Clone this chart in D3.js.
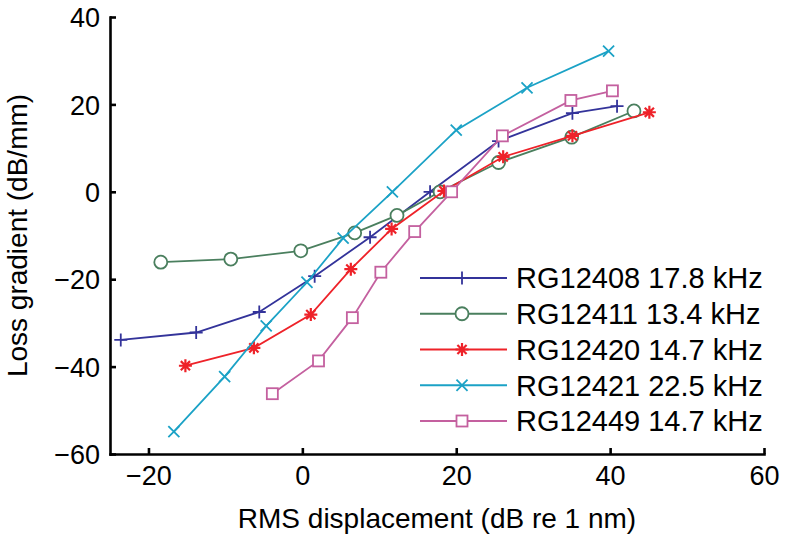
<!DOCTYPE html>
<html>
<head>
<meta charset="utf-8">
<script src="https://cdn.jsdelivr.net/npm/d3@7"></script>
<style>
  html, body { margin: 0; padding: 0; background: #fff; }
  svg { display: block; font-family: "Liberation Sans", Arial, Helvetica, sans-serif; }
</style>
</head>
<body>
<svg id="chart" width="786" height="535"></svg>
<script>
// ---- data ----
const seriesNames = ["RG12408 17.8 kHz", "RG12411 13.4 kHz", "RG12420 14.7 kHz", "RG12421 22.5 kHz", "RG12449 14.7 kHz"];
const markerTypes = ["plus", "circle", "star", "cross", "square"];
const seriesColors = ["#33339a", "#4a7f5e", "#ee2229", "#1ba2c6", "#c4609f"];

const rg12408X = [-23.6, -13.8, -5.6, 1.6, 8.8, 16.6, 25.5, 35.1, 40.9];
const rg12408Y = [-33.9, -32.2, -27.5, -19.3, -10.4, 0.0, 11.6, 18.0, 19.6];
const rg12411X = [-18.4, -9.3, -0.2, 6.8, 12.3, 17.9, 25.5, 35.0, 43.1];
const rg12411Y = [-16.1, -15.4, -13.5, -9.4, -5.4, 0.0, 6.7, 12.5, 18.5];
const rg12420X = [-15.2, -6.3, 1.1, 6.3, 11.6, 18.4, 26.1, 35.1, 45.1];
const rg12420Y = [-39.8, -35.7, -28.1, -17.7, -8.5, 0.2, 8.0, 12.8, 18.2];
const rg12421X = [-16.7, -10.1, -4.7, 0.6, 5.3, 11.7, 20.0, 29.2, 39.8];
const rg12421Y = [-54.9, -42.3, -30.7, -20.7, -10.6, 0.0, 14.1, 23.8, 32.2];
const rg12449X = [-3.9, 2.1, 6.5, 10.2, 14.6, 19.4, 26.0, 34.9, 40.3];
const rg12449Y = [-46.2, -38.7, -28.8, -18.4, -9.1, 0.0, 12.8, 20.9, 23.1];

const xTicks = [-20, 0, 20, 40, 60];
const yTicks = [-60, -40, -20, 0, 20, 40];
const xLabel = "RMS displacement (dB re 1 nm)";
const yLabel = "Loss gradient (dB/mm)";

const allX = [rg12408X, rg12411X, rg12420X, rg12421X, rg12449X];
const allY = [rg12408Y, rg12411Y, rg12420Y, rg12421Y, rg12449Y];
const series = seriesNames.map((name, i) => ({
  name, marker: markerTypes[i], color: seriesColors[i],
  points: allX[i].map((x, j) => ({ x, y: allY[i][j] }))
}));

// ---- layout ----
const mLeft = 110, mRight = 764, mTop = 17, mBottom = 454;
const svg = d3.select("#chart");
const x = d3.scaleLinear().domain([-25, 60]).range([mLeft, mRight]);
const y = d3.scaleLinear().domain([-60, 40]).range([mBottom, mTop]);

// axes
const fontTick = 27;
const fmt = d => d < 0 ? "\u2212" + Math.abs(d) : String(d);
const xAxis = d3.axisBottom(x).tickValues(xTicks).tickSizeInner(-6).tickSizeOuter(0).tickPadding(12).tickFormat(fmt);
const yAxis = d3.axisLeft(y).tickValues(yTicks).tickSizeInner(-6).tickSizeOuter(0).tickPadding(10).tickFormat(fmt);

const gx = svg.append("g").attr("transform", `translate(0,${mBottom})`).call(xAxis);
const gy = svg.append("g").attr("transform", `translate(${mLeft},0)`).call(yAxis);
[gx, gy].forEach(g => {
  g.select(".domain").attr("stroke", "#000").attr("stroke-width", 2.6).attr("stroke-linecap", "square");
  g.selectAll(".tick line").attr("stroke", "#000").attr("stroke-width", 2.6);
  g.selectAll(".tick text").attr("font-size", fontTick).attr("fill", "#000")
    .attr("font-family", "'Liberation Sans', Arial, sans-serif");
});
gx.selectAll(".tick text").attr("dy", "0.71em");
gy.selectAll(".tick text").attr("dy", "0.36em");

// axis titles
svg.append("text").attr("x", (mLeft + mRight) / 2).attr("y", 528)
  .attr("text-anchor", "middle").attr("font-size", 28).text(xLabel);
svg.append("text").attr("transform", `translate(27,${(mTop + mBottom) / 2}) rotate(-90)`)
  .attr("text-anchor", "middle").attr("font-size", 28).text(yLabel);

// marker drawing
function drawMarker(g, type, color, cx, cy) {
  const s = 6.5;
  if (type === "plus") {
    g.append("path").attr("d", `M${cx - s},${cy}H${cx + s}M${cx},${cy - s}V${cy + s}`)
      .attr("stroke", color).attr("stroke-width", 1.8).attr("fill", "none");
  } else if (type === "circle") {
    g.append("circle").attr("cx", cx).attr("cy", cy).attr("r", 6.5)
      .attr("stroke", color).attr("stroke-width", 1.8).attr("fill", "#fff");
  } else if (type === "star") {
    let d = "";
    for (let k = 0; k < 4; k++) {
      const a = k * Math.PI / 4;
      d += `M${cx - s * Math.cos(a)},${cy - s * Math.sin(a)}L${cx + s * Math.cos(a)},${cy + s * Math.sin(a)}`;
    }
    g.append("path").attr("d", d).attr("stroke", color).attr("stroke-width", 2.2).attr("fill", "none");
  } else if (type === "cross") {
    const t = s * 0.85;
    g.append("path").attr("d", `M${cx - t},${cy - t}L${cx + t},${cy + t}M${cx - t},${cy + t}L${cx + t},${cy - t}`)
      .attr("stroke", color).attr("stroke-width", 1.8).attr("fill", "none");
  } else if (type === "square") {
    g.append("rect").attr("x", cx - 5.5).attr("y", cy - 5.5).attr("width", 11).attr("height", 11)
      .attr("stroke", color).attr("stroke-width", 1.8).attr("fill", "#fff");
  }
}

const line = d3.line().x(d => x(d.x)).y(d => y(d.y));
const plot = svg.append("g");
series.forEach(s => {
  const g = plot.append("g");
  g.append("path").datum(s.points).attr("d", line)
    .attr("fill", "none").attr("stroke", s.color).attr("stroke-width", 1.8);
  s.points.forEach(p => drawMarker(g, s.marker, s.color, x(p.x), y(p.y)));
});

// legend
const legRowY = d3.scaleLinear().domain([0, 4]).range([278, 421]);
const leg = svg.append("g");
series.forEach((s, i) => {
  const ly = legRowY(i);
  leg.append("line").attr("x1", 420).attr("x2", 507).attr("y1", ly).attr("y2", ly)
    .attr("stroke", s.color).attr("stroke-width", 1.8);
  drawMarker(leg, s.marker, s.color, 462, ly);
  leg.append("text").attr("x", 516).attr("y", ly).attr("dy", "0.36em")
    .attr("font-size", 29).attr("fill", "#000").text(s.name);
});
</script>
</body>
</html>
